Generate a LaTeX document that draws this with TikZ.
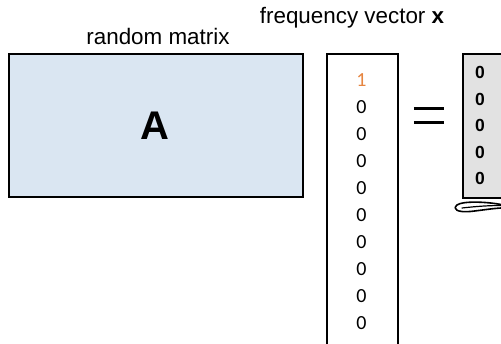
\documentclass[tikz,border=0pt]{standalone}
\usepackage{fontspec}
\setmainfont{Liberation Sans}
\newfontfamily\digitfont{Carlito}
\definecolor{boxblue}{RGB}{218,230,242}
\definecolor{boxgray}{RGB}{226,226,226}
\definecolor{oneorange}{RGB}{230,133,64}
\begin{document}
\begin{tikzpicture}[x=1pt,y=-1pt,
  boxline/.style={draw=black,line width=1.6pt},
  label/.style={font=\fontsize{22.4}{26}\selectfont,inner sep=0pt},
  vecdigit/.style={font=\digitfont\fontsize{20}{24}\selectfont,inner sep=0pt},
  graydigit/.style={font=\bfseries\fontsize{17.5}{20}\selectfont,inner sep=0pt}]
\useasboundingbox (0,0) rectangle (501,343);
\begin{scope}
\clip (0,0) rectangle (501,343);
% matrix A
\node[boxline,fill=boxblue,minimum width=294pt,minimum height=143pt,inner sep=0pt,anchor=north west] (Abox) at (8,53) {};
\node[font=\bfseries\fontsize{40}{44}\selectfont,inner sep=0pt] (Alabel) at (155,126) {A};
\node[label] (rmlabel) at (158,36) {random matrix};
\node[label] (fvlabel) at (352,18) {frequency vector \textbf{x}};
% vector x
\node[boxline,fill=white,minimum width=71pt,minimum height=300pt,inner sep=0pt,anchor=north west] (xbox) at (326,53) {};
\node[vecdigit,text=oneorange] (x1) at (361.5,80) {1};
\foreach \i in {1,...,9}{
  \node[vecdigit] (x\the\numexpr\i+1\relax) at (361.5,{80+27.05*\i}) {0};
}
% equals
\node[inner sep=0pt,minimum width=30pt,minimum height=14pt] (eq) at (429,115.5) {};
\draw[line width=3pt] (eq.north west) -- (eq.north east);
\draw[line width=3pt] (eq.south west) -- (eq.south east);
% result vector
\node[boxline,fill=boxgray,minimum width=41pt,minimum height=144pt,inner sep=0pt,anchor=north west] (ybox) at (462,53) {};
\foreach \i in {0,...,4}{
  \node[graydigit] (y\i) at (480,{72.5+26.6*\i}) {0};
}
% scribble
\coordinate (s0) at (501,204.5);
\draw[line width=1.6pt,line cap=round,line join=round]
  (s0) .. controls (485,201.5) and (462,201) .. (457,205)
  .. controls (452,209.5) and (458,212.5) .. (470,211.5)
  .. controls (480,210.5) and (492,208.5) .. (501,208);
\draw[line width=1.2pt,line cap=round] (462,208) .. controls (475,206.5) and (488,205.5) .. (501,205.5);
\end{scope}
\end{tikzpicture}
\end{document}
